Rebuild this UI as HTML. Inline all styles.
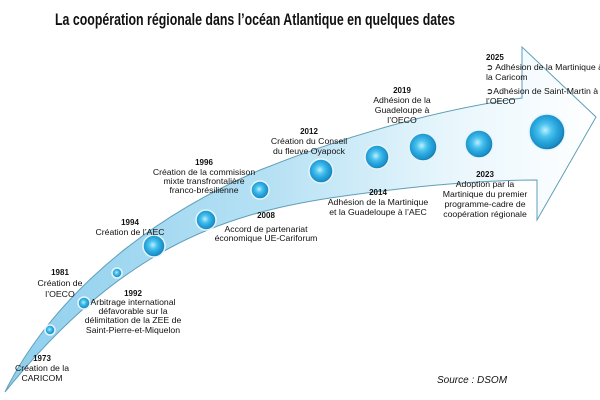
<!DOCTYPE html>
<html><head><meta charset="utf-8"><style>
html,body{margin:0;padding:0;background:#fff;width:600px;height:400px;overflow:hidden}
svg text{font-family:"Liberation Sans",sans-serif;fill:#111}
.y{font-weight:bold;font-size:8px}
.t{font-size:8.7px}
</style></head><body>
<svg width="600" height="400" viewBox="0 0 600 400">
<defs>
<linearGradient id="ag" x1="0" y1="0" x2="1" y2="0">
<stop offset="0" stop-color="#8fcfee"/>
<stop offset="0.45" stop-color="#b6e1f4"/>
<stop offset="0.75" stop-color="#e8f6fc"/>
<stop offset="1" stop-color="#ffffff"/>
</linearGradient>
<radialGradient id="cg" cx="0.45" cy="0.45" r="0.6">
<stop offset="0" stop-color="#bfefff"/>
<stop offset="0.3" stop-color="#4cc3ee"/>
<stop offset="0.55" stop-color="#2aa7de"/>
<stop offset="0.8" stop-color="#1b8fc8"/>
<stop offset="1" stop-color="#0f5f8c"/>
</radialGradient>
</defs>
<text x="255" y="25" text-anchor="middle" font-size="17" font-weight="bold" textLength="400" lengthAdjust="spacingAndGlyphs">La coopération régionale dans l’océan Atlantique en quelques dates</text>
<path d="M5,392 C40,320 120,230 260,170 C360,130 450,108 522,98 L522,47 L596,117 L537,220 L537,180 C470,180 400,188 330,198 C220,215 120,250 5,392 Z" fill="url(#ag)" stroke="#5f9fb8" stroke-width="1"/>
<g stroke="#e6f5fb" stroke-width="1.5">
<circle cx="50" cy="330" r="5" fill="url(#cg)"/>
<circle cx="84" cy="303" r="6" fill="url(#cg)"/>
<circle cx="117" cy="273" r="5" fill="url(#cg)"/>
<circle cx="154" cy="246" r="11" fill="url(#cg)"/>
<circle cx="206" cy="220" r="10" fill="url(#cg)"/>
<circle cx="260" cy="190" r="9" fill="url(#cg)"/>
<circle cx="321" cy="171" r="12" fill="url(#cg)"/>
<circle cx="377" cy="157" r="12" fill="url(#cg)"/>
<circle cx="423" cy="147" r="14" fill="url(#cg)"/>
<circle cx="479" cy="144" r="14" fill="url(#cg)"/>
<circle cx="547" cy="132" r="18" fill="url(#cg)"/>
</g>
<g text-anchor="middle">
<text class="y" x="42" y="361">1973</text>
<text class="t" x="42" y="371">Création de la</text>
<text class="t" x="42" y="381">CARICOM</text>
<text class="y" x="60" y="275">1981</text>
<text class="t" x="60" y="286">Création de</text>
<text class="t" x="60" y="297">l’OECO</text>
<text class="y" x="133" y="296">1992</text>
<text class="t" x="133" y="305">Arbitrage international</text>
<text class="t" x="133" y="314">défavorable sur la</text>
<text class="t" x="133" y="323">délimitation de la ZEE de</text>
<text class="t" x="133" y="333">Saint-Pierre-et-Miquelon</text>
<text class="y" x="130" y="225">1994</text>
<text class="t" x="130" y="235">Création de l’AEC</text>
<text class="y" x="204" y="165">1996</text>
<text class="t" x="204" y="175">Création de la commisison</text>
<text class="t" x="204" y="184">mixte transfrontalière</text>
<text class="t" x="204" y="193">franco-brésilienne</text>
<text class="y" x="266" y="218">2008</text>
<text class="t" x="266" y="232">Accord de partenariat</text>
<text class="t" x="266" y="241">économique UE-Cariforum</text>
<text class="y" x="309" y="134">2012</text>
<text class="t" x="309" y="144">Création du Conseil</text>
<text class="t" x="309" y="154">du fleuve Oyapock</text>
<text class="y" x="378" y="195">2014</text>
<text class="t" x="378" y="205">Adhésion de la Martinique</text>
<text class="t" x="378" y="215">et la Guadeloupe à l’AEC</text>
<text class="y" x="402" y="93">2019</text>
<text class="t" x="402" y="103">Adhésion de la</text>
<text class="t" x="402" y="113">Guadeloupe à</text>
<text class="t" x="402" y="123">l’OECO</text>
<text class="y" x="485" y="177">2023</text>
<text class="t" x="485" y="187">Adoption par la</text>
<text class="t" x="485" y="197">Martinique du premier</text>
<text class="t" x="485" y="207">programme-cadre de</text>
<text class="t" x="485" y="217">coopération régionale</text>
</g>
<text class="y" x="486" y="60">2025</text>
<text class="t" x="486" y="70">➲ Adhésion de la Martinique à</text>
<text class="t" x="486" y="80">la Caricom</text>
<text class="t" x="486" y="94">➲Adhésion de Saint-Martin à</text>
<text class="t" x="486" y="104">l’OECO</text>
<text x="437" y="383" font-size="10" font-style="italic">Source : DSOM</text>
</svg>
</body></html>
